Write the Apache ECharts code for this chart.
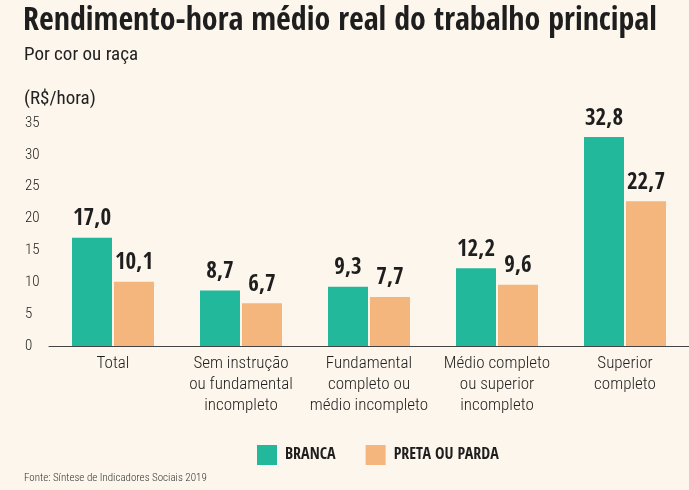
<!DOCTYPE html>
<html>
<head>
<meta charset="utf-8">
<script src="https://cdn.jsdelivr.net/npm/echarts@6/dist/echarts.min.js"></script>
<style>
html,body{margin:0;padding:0;background:#fdf6ec;}
#graph{width:689px;height:490px;}
</style>
</head>
<body>
<div id="graph"></div>
<script>
var categories = [
    'Total',
    'Sem instrução\nou fundamental\nincompleto',
    'Fundamental\ncompleto ou\nmédio incompleto',
    'Médio completo\nou superior\nincompleto',
    'Superior\ncompleto'
];
var branca = [17.0, 8.7, 9.3, 12.2, 32.8];
var pretaParda = [10.1, 6.7, 7.7, 9.6, 22.7];
var seriesNames = ['BRANCA', 'PRETA OU PARDA'];
var yTicks = [0, 5, 10, 15, 20, 25, 30, 35];

var BOLD = '"Open Sans Condensed", "Roboto Condensed", sans-serif';
var LIGHT = '"Roboto Condensed", sans-serif';

var chart = echarts.init(document.getElementById('graph'));

function valueLabel(){
    return {
        show: true,
        position: 'top',
        distance: 7,
        fontFamily: BOLD,
        fontWeight: 'bold',
        fontSize: 23,
        color: '#1e1e1e',
        formatter: function(p){
            return p.value.toFixed(1).replace('.', ',');
        }
    };
}

var option = {
    backgroundColor: '#fdf6ec',
    color: ['#22b89b', '#f5b67d'],
    title: [
        {
            text: 'Rendimento-hora médio real do trabalho principal',
            left: 18, top: 1,
            textStyle: {fontFamily: BOLD, fontWeight: 'bold', fontSize: 32, color: '#1e1e1e'}
        },
        {
            text: 'Por cor ou raça',
            left: 19, top: 41,
            textStyle: {fontFamily: LIGHT, fontWeight: 'normal', fontSize: 19, color: '#222'}
        },
        {
            text: '(R$/hora)',
            left: 19, top: 85,
            textStyle: {fontFamily: LIGHT, fontWeight: 'normal', fontSize: 19, color: '#222'}
        },
        {
            text: 'Fonte: Síntese de Indicadores Sociais 2019',
            left: 19, top: 468,
            textStyle: {fontFamily: LIGHT, fontWeight: 300, fontSize: 11, color: '#333'}
        }
    ],
    legend: {
        left: 252,
        top: 440,
        itemWidth: 20,
        itemHeight: 20,
        itemGap: 30,
        icon: 'rect',
        textStyle: {fontFamily: BOLD, fontWeight: 'bold', fontSize: 16, color: '#1e1e1e', padding: [0, 0, 0, 3]},
        data: seriesNames
    },
    grid: {
        left: 49,
        right: -2,
        top: 123,
        bottom: 144
    },
    xAxis: {
        type: 'category',
        data: categories,
        axisLine: {lineStyle: {color: '#444', width: 1}},
        axisTick: {show: false},
        axisLabel: {
            interval: 0,
            margin: 7,
            fontFamily: LIGHT,
            fontWeight: 300,
            fontSize: 17,
            lineHeight: 21,
            color: '#1e1e1e'
        }
    },
    yAxis: {
        type: 'value',
        min: yTicks[0],
        max: yTicks[yTicks.length - 1],
        interval: 5,
        splitLine: {show: false},
        axisLine: {show: false},
        axisTick: {show: false},
        axisLabel: {
            align: 'left',
            margin: 24,
            fontFamily: LIGHT,
            fontWeight: 300,
            fontSize: 15,
            color: '#222'
        }
    },
    series: [
        {
            name: seriesNames[0],
            type: 'bar',
            data: branca,
            barWidth: 40,
            barGap: '5%',
            label: valueLabel()
        },
        {
            name: seriesNames[1],
            type: 'bar',
            data: pretaParda,
            barWidth: 40,
            barGap: '5%',
            label: valueLabel()
        }
    ]
};

chart.setOption(option);
</script>
</body>
</html>
